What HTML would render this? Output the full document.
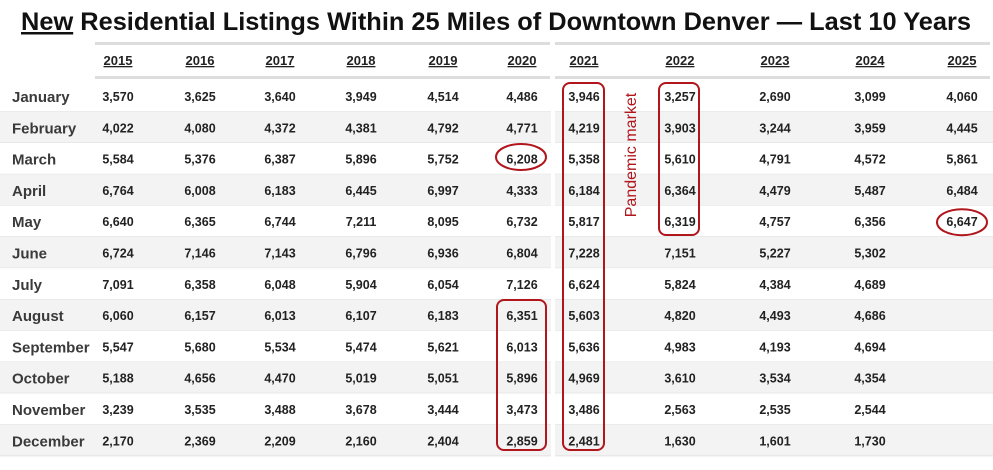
<!DOCTYPE html>
<html><head><meta charset="utf-8"><style>
body{margin:0;background:#fff;width:993px;height:465px;overflow:hidden}
text{font-family:"Liberation Sans",sans-serif}
</style></head><body>
<svg width="993" height="465" viewBox="0 0 993 465">
<text x="496" y="30" text-anchor="middle" font-size="25" font-weight="bold" fill="#111" textLength="950" lengthAdjust="spacingAndGlyphs"><tspan text-decoration="underline">New</tspan> Residential Listings Within 25 Miles of Downtown Denver — Last 10 Years</text>
<g id="tbl"></g>
</svg>
<script>
const years=["2015","2016","2017","2018","2019","2020","2021","2022","2023","2024","2025"];
const months=["January","February","March","April","May","June","July","August","September","October","November","December"];
const v2015=[3570,4022,5584,6764,6640,6724,7091,6060,5547,5188,3239,2170];
const v2016=[3625,4080,5376,6008,6365,7146,6358,6157,5680,4656,3535,2369];
const v2017=[3640,4372,6387,6183,6744,7143,6048,6013,5534,4470,3488,2209];
const v2018=[3949,4381,5896,6445,7211,6796,5904,6107,5474,5019,3678,2160];
const v2019=[4514,4792,5752,6997,8095,6936,6054,6183,5621,5051,3444,2404];
const v2020=[4486,4771,6208,4333,6732,6804,7126,6351,6013,5896,3473,2859];
const v2021=[3946,4219,5358,6184,5817,7228,6624,5603,5636,4969,3486,2481];
const v2022=[3257,3903,5610,6364,6319,7151,5824,4820,4983,3610,2563,1630];
const v2023=[2690,3244,4791,4479,4757,5227,4384,4493,4193,3534,2535,1601];
const v2024=[3099,3959,4572,5487,6356,5302,4689,4686,4694,4354,2544,1730];
const v2025=[4060,4445,5861,6484,6647,null,null,null,null,null,null,null];
const series=[v2015,v2016,v2017,v2018,v2019,v2020,v2021,v2022,v2023,v2024,v2025];
const colX=[118,200,280,361,443,522,584,680,775,870,962];
const NS="http://www.w3.org/2000/svg";
const g=document.getElementById('tbl');
function mk(t,a){const e=document.createElementNS(NS,t);for(const k in a)e.setAttribute(k,a[k]);g.appendChild(e);return e;}
const rowY=i=>96+i*31.3;
months.forEach((m,i)=>{
  const y=rowY(i);
  const r=mk('rect',{x:0,y:y-15.6,width:993,height:31.3,fill:i%2?'#f3f3f3':'#fff'});
  
  
  const l=mk('line',{x1:0,x2:993,y1:y+15.6,y2:y+15.6,stroke:'#e2e2e2','stroke-width':1});
  
  
});
mk('rect',{x:551,y:40,width:4,height:425,fill:'#fff'});
[[95,550],[555,990]].forEach(([a,b])=>{
  mk('rect',{x:a,y:42,width:b-a,height:3,fill:'#ddd'});
  mk('rect',{x:a,y:76,width:b-a,height:3,fill:'#ddd'});
});
years.forEach((yr,j)=>{
  const t=mk('text',{x:colX[j],y:65,'text-anchor':'middle','font-size':13,'font-weight':'bold',fill:'#222','text-decoration':'underline'});
  t.textContent=yr;
  
  
});
months.forEach((m,i)=>{
  const t=mk('text',{x:12,y:rowY(i)+6,'font-size':15,'font-weight':'bold',fill:'#3a3a3a'});
  t.textContent=m;
  
  
  series.forEach((s,j)=>{
    if(s[i]==null)return;
    const c=mk('text',{x:colX[j],y:rowY(i)+5,'text-anchor':'middle','font-size':12.5,'font-weight':'bold',fill:'#222'});
    c.textContent=s[i].toLocaleString('en-US');
    
    
  });
});
function box(x,y,w,h,n){const r=mk('rect',{x,y,width:w,height:h,rx:7,fill:'none',stroke:'#b0161c','stroke-width':2});}
box(563,83,41,367,'highlight-2021');
box(659,83,40,152,'highlight-2022-jan-may');
box(497,300,49,150,'highlight-2020-aug-dec');
function ov(cx,cy,n){const e=mk('ellipse',{cx,cy,rx:25,ry:13,fill:'none',stroke:'#b0161c','stroke-width':2});}
ov(521,157,'circle-2020-march');
ov(962,rowY(4)+1,'circle-2025-may');
const p=mk('text',{x:0,y:0,transform:'translate(636,155) rotate(-90)','text-anchor':'middle','font-size':16,fill:'#b0161c'});
p.textContent='Pandemic market';


</script>
</body></html>
